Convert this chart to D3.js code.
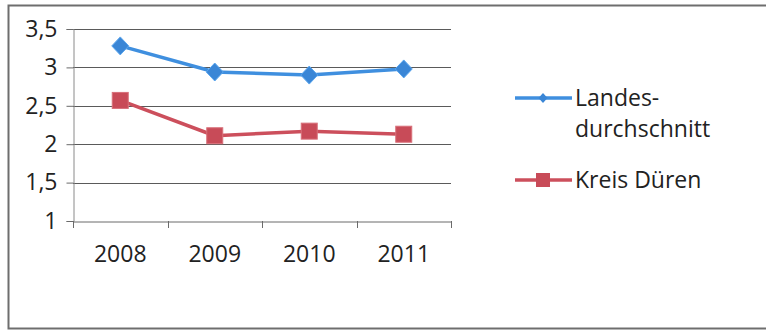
<!DOCTYPE html>
<html>
<head>
<meta charset="utf-8">
<script src="https://cdn.jsdelivr.net/npm/d3@7"></script>
<style>
  html, body { margin: 0; padding: 0; background: #fff; }
  svg { display: block; }
  text { font-family: "Open Sans", "Liberation Sans", sans-serif; fill: #222; }
</style>
</head>
<body>
<svg id="chart" width="766" height="331"></svg>
<script>
const years = ["2008", "2009", "2010", "2011"];
const landesdurchschnitt = [3.28, 2.94, 2.90, 2.98];
const kreisDueren = [2.57, 2.11, 2.17, 2.13];
const yTicks = [1, 1.5, 2, 2.5, 3, 3.5];
const seriesNames = ["Landes-\ndurchschnitt", "Kreis Düren"];

const svg = d3.select("#chart");
const W = 766, H = 331;
const FS = 23;

// frame
svg.append("rect")
  .attr("x", 8.5).attr("y", 5.5)
  .attr("width", W + 10).attr("height", 323)
  .attr("fill", "#fff").attr("stroke", "#6e6e6e").attr("stroke-width", 2);

const plot = { left: 73, right: 451, top: 29, bottom: 221 };

const x = d3.scaleBand().domain(years).range([plot.left, plot.right]);
const y = d3.scaleLinear().domain([1, 3.5]).range([plot.bottom, plot.top]);
const fmt = v => String(v).replace(".", ",");

// horizontal gridlines
svg.append("g")
  .selectAll("line")
  .data(yTicks.filter(v => v > 1))
  .join("line")
  .attr("x1", plot.left).attr("x2", plot.right)
  .attr("y1", d => Math.round(y(d)) + 0.5).attr("y2", d => Math.round(y(d)) + 0.5)
  .attr("stroke", "#5a5a5a").attr("stroke-width", 1);

// y axis
const yAxis = svg.append("g")
  .attr("transform", `translate(${plot.left + 0.5},0)`)
  .call(d3.axisLeft(y).tickValues(yTicks).tickFormat(fmt).tickSize(7).tickPadding(9));
yAxis.select(".domain").attr("stroke", "#8a8a8a");
yAxis.selectAll(".tick line").attr("stroke", "#6a6a6a");
yAxis.selectAll("text").attr("font-size", FS).attr("fill", "#222");

// x axis
const xAxis = svg.append("g")
  .attr("transform", `translate(0,${Math.round(y(1)) + 0.5})`)
  .call(d3.axisBottom(x).tickSize(0).tickPadding(24));
xAxis.select(".domain").attr("stroke", "#6a6a6a");
xAxis.selectAll("text").attr("font-size", FS).attr("fill", "#222");
// category separators
svg.append("g")
  .selectAll("line")
  .data([...years.map(d => x(d)), plot.right])
  .join("line")
  .attr("x1", d => Math.round(d) + 0.5).attr("x2", d => Math.round(d) + 0.5)
  .attr("y1", Math.round(y(1))).attr("y2", Math.round(y(1)) + 7)
  .attr("stroke", "#6a6a6a");

const cx = d => x(d) + x.bandwidth() / 2;
const line = d3.line().x((d, i) => cx(years[i])).y(d => y(d));

const blue = "#3f8fdf", red = "#cc4f5c";
// diamond marker path centred on the origin
const diamondPath = (w, h) => `M0,${-h / 2}L${w / 2},0L0,${h / 2}L${-w / 2},0Z`;

// Landesdurchschnitt
svg.append("path").datum(landesdurchschnitt)
  .attr("d", line).attr("fill", "none")
  .attr("stroke", blue).attr("stroke-width", 3.5).attr("stroke-linejoin", "round");
svg.append("g").selectAll("path")
  .data(landesdurchschnitt)
  .join("path")
  .attr("d", diamondPath(17, 18))
  .attr("transform", (d, i) => `translate(${cx(years[i])},${y(d)})`)
  .attr("fill", "#3a86d6").attr("stroke", "#5aa6ee").attr("stroke-width", 1);

// Kreis Düren
svg.append("path").datum(kreisDueren)
  .attr("d", line).attr("fill", "none")
  .attr("stroke", red).attr("stroke-width", 3.5).attr("stroke-linejoin", "round");
svg.append("g").selectAll("rect")
  .data(kreisDueren)
  .join("rect")
  .attr("x", (d, i) => cx(years[i]) - 8).attr("y", d => y(d) - 8)
  .attr("width", 16).attr("height", 16)
  .attr("fill", "#c84b58").attr("stroke", "#d8707a").attr("stroke-width", 1);

// legend
const lg = svg.append("g");
const legendItems = [
  { name: seriesNames[0], color: blue, y: 98, marker: "diamond" },
  { name: seriesNames[1], color: red, y: 180, marker: "square" }
];
legendItems.forEach(it => {
  lg.append("line")
    .attr("x1", 515).attr("x2", 572).attr("y1", it.y).attr("y2", it.y)
    .attr("stroke", it.color).attr("stroke-width", 3.5);
  if (it.marker === "diamond") {
    lg.append("path").attr("d", diamondPath(9, 10))
      .attr("transform", `translate(543,${it.y})`).attr("fill", "#3a86d6");
  } else {
    lg.append("rect").attr("x", 536).attr("y", it.y - 7).attr("width", 14).attr("height", 14)
      .attr("fill", "#c84b58");
  }
  const lines = it.name.split("\n");
  const t = lg.append("text").attr("x", 575).attr("y", it.y + 8).attr("font-size", FS);
  lines.forEach((s, k) => {
    t.append("tspan").attr("x", 575).attr("dy", k === 0 ? 0 : 31).text(s);
  });
});
</script>
</body>
</html>
